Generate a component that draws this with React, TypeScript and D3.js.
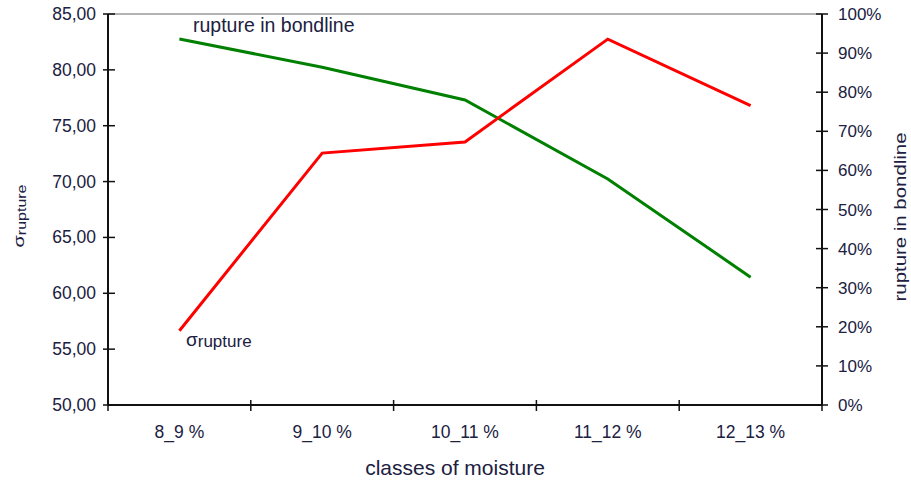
import * as d3 from 'd3';

// classes of moisture and the two measured series
const categories = ['8_9 %', '9_10 %', '10_11 %', '11_12 %', '12_13 %'];
const sigmaRupture = [56.65, 72.55, 73.55, 82.75, 76.8];
const bondlineShare = [0.936, 0.864, 0.78, 0.578, 0.327];
const leftTicks = [50, 55, 60, 65, 70, 75, 80, 85];
const rightTicks = [0, 0.1, 0.2, 0.3, 0.4, 0.5, 0.6, 0.7, 0.8, 0.9, 1];

const width = 911;
const height = 483;
const margin = { top: 14, right: 89, bottom: 78, left: 108 };
const textColor = '#20203f';
const font = '"Liberation Sans", Arial, sans-serif';

const App = () => {
  const x = d3
    .scaleBand()
    .domain(categories)
    .range([margin.left, width - margin.right]);
  const yLeft = d3
    .scaleLinear()
    .domain([50, 85])
    .range([height - margin.bottom, margin.top]);
  const yRight = d3
    .scaleLinear()
    .domain([0, 1])
    .range([height - margin.bottom, margin.top]);

  const cx = (c: string) => (x(c) ?? 0) + x.bandwidth() / 2;

  const sigmaLine = d3
    .line<number>()
    .x((_, i) => cx(categories[i]))
    .y((d) => yLeft(d));
  const bondLine = d3
    .line<number>()
    .x((_, i) => cx(categories[i]))
    .y((d) => yRight(d));

  const fmtLeft = (v: number) => d3.format('.2f')(v).replace('.', ',');
  const fmtRight = d3.format('.0%');

  const x0 = margin.left;
  const x1 = width - margin.right;
  const yTop = margin.top;
  const yBot = height - margin.bottom;
  const boundaries = [...categories.map((c) => x(c) ?? 0), x1];

  return (
    <svg
      width={width}
      height={height}
      style={{ position: 'absolute', left: 0, top: 0, background: '#fff' }}
      fontFamily={font}
    >
      {/* frame */}
      <line x1={x0} x2={x1} y1={yTop} y2={yTop} stroke="#9a9a9a" strokeWidth={1.5} />
      <line x1={x0} x2={x0} y1={yTop} y2={yBot} stroke="#111" strokeWidth={2} />
      <line x1={x1} x2={x1} y1={yTop} y2={yBot} stroke="#111" strokeWidth={2} />
      <line x1={x0} x2={x1} y1={yBot} y2={yBot} stroke="#111" strokeWidth={2} />

      {/* left axis */}
      {leftTicks.map((t) => (
        <g key={'l' + t}>
          <line x1={x0 - 5} x2={x0 + 7} y1={yLeft(t)} y2={yLeft(t)} stroke="#111" strokeWidth={1.5} />
          <text
            x={96}
            y={yLeft(t) + 6}
            textAnchor="end"
            fontSize={17.5}
            fill={textColor}
          >
            {fmtLeft(t)}
          </text>
        </g>
      ))}

      {/* right axis */}
      {rightTicks.map((t) => (
        <g key={'r' + t}>
          <line x1={x1 - 6} x2={x1 + 6} y1={yRight(t)} y2={yRight(t)} stroke="#111" strokeWidth={1.5} />
          <text x={838} y={yRight(t) + 6} fontSize={17} fill={textColor}>
            {fmtRight(t)}
          </text>
        </g>
      ))}

      {/* x axis */}
      {boundaries.map((b, i) => (
        <line key={'x' + i} x1={b} x2={b} y1={yBot - 5} y2={yBot + 6} stroke="#111" strokeWidth={1.5} />
      ))}
      {categories.map((c) => (
        <text key={c} x={cx(c)} y={438} textAnchor="middle" fontSize={17.5} fill={textColor}>
          {c}
        </text>
      ))}
      <text x={455} y={475} textAnchor="middle" fontSize={21} fill={textColor}>
        classes of moisture
      </text>

      {/* axis titles */}
      <text
        transform="translate(24,216) rotate(-90)"
        textAnchor="middle"
        fill={textColor}
        fontSize={15}
        textLength={63}
        lengthAdjust="spacingAndGlyphs"
      >
        <tspan>σ</tspan>
        <tspan fontSize={12} dy={2}>rupture</tspan>
      </text>
      <text
        transform="translate(906,217) rotate(-90)"
        textAnchor="middle"
        fill={textColor}
        fontSize={16}
        textLength={169}
        lengthAdjust="spacingAndGlyphs"
      >
        rupture in bondline
      </text>

      {/* series */}
      <path d={bondLine(bondlineShare) ?? ''} fill="none" stroke="#008000" strokeWidth={3} />
      <path d={sigmaLine(sigmaRupture) ?? ''} fill="none" stroke="#ff0000" strokeWidth={3} />

      {/* in-plot labels */}
      <text x={193} y={32} fontSize={19.5} fill={textColor}>
        rupture in bondline
      </text>
      <text x={186} y={346} fill={textColor} fontSize={19}>
        <tspan>σ</tspan>
        <tspan fontSize={17} dy={1}>rupture</tspan>
      </text>
    </svg>
  );
};

export default App;
